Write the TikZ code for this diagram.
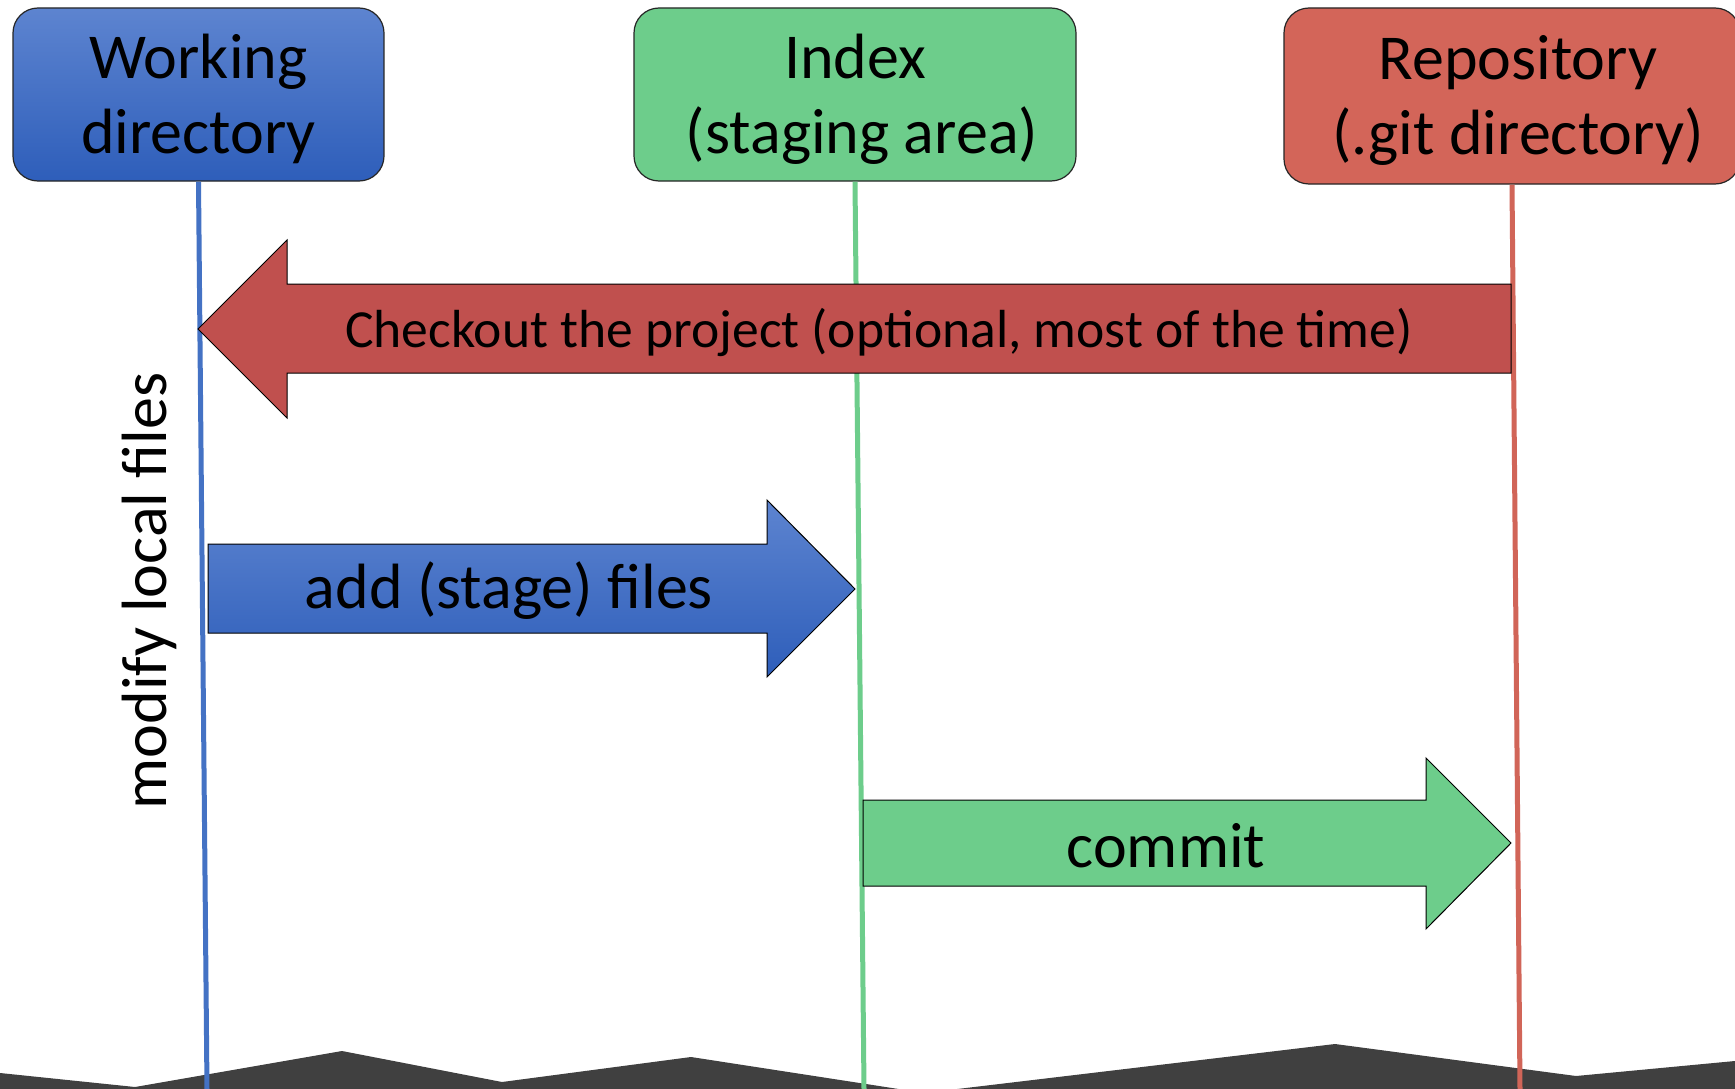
\documentclass[tikz,border=0pt]{standalone}
\usepackage{fontspec}
\setmainfont{Carlito}
\definecolor{wdtop}{RGB}{93,132,208}
\definecolor{wdbot}{RGB}{46,94,186}
\definecolor{idxgreen}{RGB}{109,205,139}
\definecolor{repored}{RGB}{211,101,89}
\definecolor{coutred}{RGB}{192,80,78}
\definecolor{blueline}{RGB}{68,114,196}
\definecolor{greenline}{RGB}{109,205,139}
\definecolor{redline}{RGB}{209,101,88}
\definecolor{ground}{RGB}{64,64,64}
\begin{document}
\begin{tikzpicture}[x=1pt,y=-1pt,
  box/.style={draw=black!85, line width=1.2pt, rounded corners=25pt,
    inner sep=0pt, minimum height=173pt},
  boxlbl/.style={align=center, inner sep=0pt, font=\fontsize{64}{75}\selectfont},
  lane/.style={line width=5pt},
  bigarrow/.style={draw=black, line width=1pt},
  lbl/.style={inner sep=0pt, font=\fontsize{64}{75}\selectfont},
  smalllbl/.style={inner sep=0pt, font=\fontsize{53.6}{64}\selectfont}]
\clip (0,0) rectangle (1735,1089);
\fill[white] (0,0) rectangle (1735,1089);
% ground
\fill[ground] (0,1073) -- (135,1087) -- (342,1051) -- (502,1082) -- (691,1057) -- (905,1090) -- (0,1090) -- cycle;
\fill[ground] (949,1090) -- (1335,1044) -- (1576,1076) -- (1735,1061) -- (1735,1090) -- cycle;
% boxes
\node[box, top color=wdtop, bottom color=wdbot, minimum width=371pt] (wd) at (198.5,94.5) {};
\node[boxlbl] (wdlbl) at (198.5,99) {Working\\directory};
\node[box, fill=idxgreen, minimum width=442pt] (idx) at (855,94.5) {};
\node[boxlbl] (idxlbl) at (855,99) {Index\\\hspace*{14pt}(staging area)};
\node[box, fill=repored, minimum width=456pt, minimum height=176pt] (repo) at (1512,96) {};
\node[boxlbl] (repolbl) at (1518,100) {Repository\\(.git directory)};
% lanes
\coordinate (wdend) at (207,1089);
\coordinate (idxend) at (864,1089);
\coordinate (repoend) at (1520,1089);
\draw[lane, blueline] (wd.south) -- (wdend);
\draw[lane, greenline] (idx.south) -- (idxend);
\draw[lane, redline] (repo.south) -- (repoend);
% checkout arrow
\draw[bigarrow, fill=coutred] (198,329) -- (287,240) -- (287,284) -- (1511,284) -- (1511,373) -- (287,373) -- (287,418) -- cycle;
\node[smalllbl] (checkout) at (879,332) {Checkout the project (optional, most of the time)};
% add arrow
\shadedraw[bigarrow, top color=wdtop, bottom color=wdbot] (208,544) -- (767,544) -- (767,500) -- (855,589) -- (767,677) -- (767,633) -- (208,633) -- cycle;
\node[lbl] (add) at (509,591) {add (stage) files};
% commit arrow
\draw[bigarrow, fill=idxgreen] (863,800) -- (1426,800) -- (1426,758) -- (1511,843) -- (1426,929) -- (1426,886) -- (863,886) -- cycle;
\node[lbl] (commit) at (1166,846) {commit};
% modify text
\node[lbl, rotate=90] (modify) at (149,591) {modify local files};
\end{tikzpicture}
\end{document}
